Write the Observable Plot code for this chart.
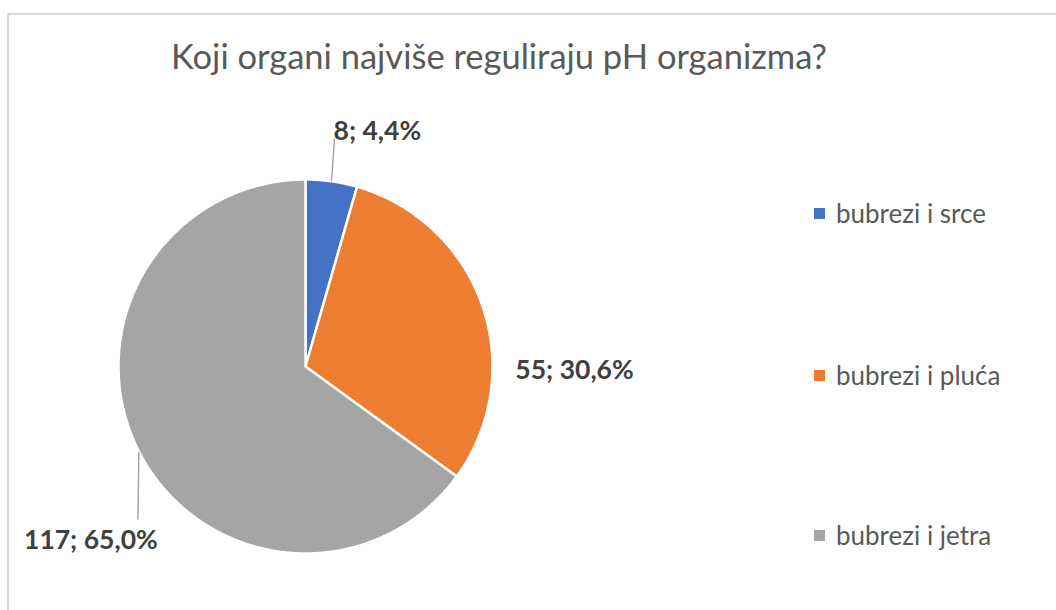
<!DOCTYPE html>
<html><head><meta charset="utf-8">
<script src="https://cdn.jsdelivr.net/npm/d3@7"></script>
<script src="https://cdn.jsdelivr.net/npm/@observablehq/plot@0.6"></script>
<style>
body{margin:0;background:#fff;}
#wrap{position:relative;width:1056px;height:610px;overflow:hidden;font-family:Lato,sans-serif;background:#fff;}
#frame{position:absolute;left:7px;top:13px;width:1200px;height:800px;border-left:2px solid #d9d9d9;border-top:2px solid #d9d9d9;}
#plot{position:absolute;left:0;top:0;}
#title{position:absolute;left:0;width:998px;top:39px;text-align:center;font-size:34.5px;line-height:34px;color:#595959;white-space:nowrap;}
.leg{position:absolute;left:814px;height:26px;font-size:26px;line-height:26px;color:#595959;display:flex;align-items:center;white-space:nowrap;}
.sw{width:11px;height:11px;margin-right:11px;flex:none;}
</style>
</head><body>
<div id="wrap">
  <div id="frame"></div>
  <div id="plot"></div>
  <div id="title">Koji organi najviše reguliraju pH organizma?</div>
</div>
<script>
const categories = ["bubrezi i srce", "bubrezi i pluća", "bubrezi i jetra"];
const counts = [8, 55, 117];
const colors = ["#4472C4", "#ED7D31", "#A5A5A5"];

// layout (pixels)
const cx = 305, cy = 366, R = 187;
const legendY = [213, 375, 535];
// label placement: leader offset from slice edge and text offset (px)
const labelLayout = [
  {leader: [3, -43], text: [-1, -7], anchor: "start"},
  {leader: null, text: [33, 65], anchor: "start"},
  {leader: [-1, 68], text: [-47, 21], anchor: "middle"}
];

const total = d3.sum(counts);
const arcs = d3.pie().sort(null).value(d => d)(counts);

const slicePts = [];
arcs.forEach((a, i) => {
  slicePts.push({cat: categories[i], x: 0, y: 0});
  const n = Math.max(2, Math.ceil((a.endAngle - a.startAngle) / (Math.PI / 360)));
  for (let k = 0; k <= n; k++) {
    const t = a.startAngle + (a.endAngle - a.startAngle) * k / n;
    slicePts.push({cat: categories[i], x: Math.sin(t), y: Math.cos(t)});
  }
});

const leaders = [];
const labels = [];
arcs.forEach((a, i) => {
  const m = (a.startAngle + a.endAngle) / 2;
  const ex = Math.sin(m), ey = Math.cos(m);
  const L = labelLayout[i];
  let px = ex, py = ey;
  if (L.leader) {
    px = ex + L.leader[0] / R;
    py = ey - L.leader[1] / R;
    leaders.push({x1: ex, y1: ey, x2: px, y2: py});
  }
  const pct = (counts[i] / total * 100).toFixed(1).replace(".", ",");
  labels.push({
    x: px + L.text[0] / R,
    y: py - L.text[1] / R,
    text: `${counts[i]}; ${pct}%`,
    anchor: L.anchor
  });
});

const chart = Plot.plot({
  width: 1056,
  height: 610,
  margin: 0,
  style: {fontFamily: "Lato, sans-serif", background: "transparent", overflow: "visible"},
  x: {domain: [-1, 1], range: [cx - R, cx + R], axis: null},
  y: {domain: [-1, 1], range: [cy + R, cy - R], axis: null},
  color: {domain: categories, range: colors},
  marks: [
    Plot.line(slicePts, {x: "x", y: "y", z: "cat", fill: "cat", stroke: "white", strokeWidth: 2.5, strokeLinejoin: "round", curve: "linear-closed"}),
    Plot.link(leaders, {x1: "x1", y1: "y1", x2: "x2", y2: "y2", stroke: "#a6a6a6", strokeWidth: 1.5}),
    ...labels.map(d => Plot.text([d], {x: "x", y: "y", text: "text", textAnchor: d.anchor, lineAnchor: "middle", fontSize: 26.5, fontWeight: "bold", fill: "#404040"}))
  ]
});
document.getElementById("plot").appendChild(chart);

const wrap = document.getElementById("wrap");
categories.forEach((c, i) => {
  const item = document.createElement("div");
  item.className = "leg";
  item.style.top = (legendY[i] - 13) + "px";
  const sw = document.createElement("span");
  sw.className = "sw";
  sw.style.background = colors[i];
  item.appendChild(sw);
  item.appendChild(document.createTextNode(c));
  wrap.appendChild(item);
});
</script>
</body></html>
